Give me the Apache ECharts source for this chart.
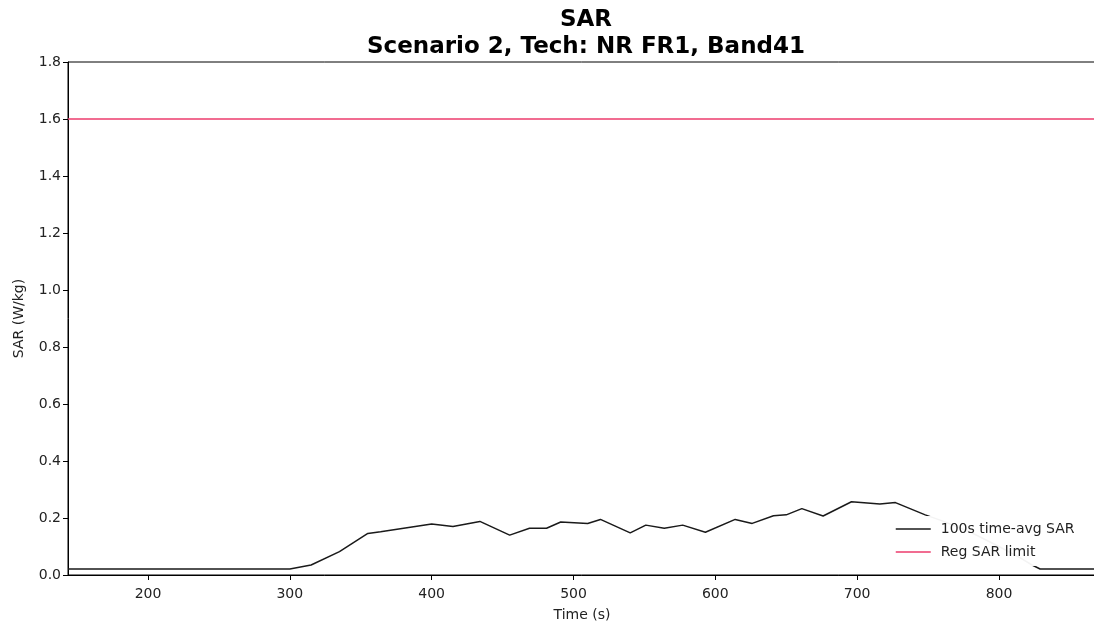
<!DOCTYPE html>
<html>
<head>
<meta charset="utf-8">
<script src="https://cdn.jsdelivr.net/npm/echarts@6/dist/echarts.min.js"></script>
<style>
html,body{margin:0;padding:0;background:#fff;}
#chart{width:1094px;height:626px;}
</style>
</head>
<body>
<div id="chart"></div>
<script>
// ---- data ----
var xRange = [143.6, 868.4];
var xTicks = [200, 300, 400, 500, 600, 700, 800];
var yTicks = [0, 0.2, 0.4, 0.6, 0.8, 1.0, 1.2, 1.4, 1.6, 1.8];
var timeS = [143.6, 300, 315, 335, 355, 364, 400, 415, 434, 455, 469, 481, 491, 510, 519, 540, 551, 564, 577, 593, 614, 626, 641, 650, 661, 676, 696, 716, 727, 748, 760, 780, 800, 815, 823, 829, 868.4];
var avgSAR = [0.021, 0.021, 0.035, 0.082, 0.146, 0.152, 0.179, 0.170, 0.188, 0.140, 0.164, 0.164, 0.186, 0.181, 0.195, 0.148, 0.175, 0.164, 0.175, 0.150, 0.195, 0.181, 0.208, 0.211, 0.233, 0.207, 0.257, 0.249, 0.254, 0.211, 0.190, 0.150, 0.100, 0.060, 0.036, 0.021, 0.021];
var sarLimit = 1.6;
var seriesNames = ['100s time-avg SAR', 'Reg SAR limit'];

var font = 'DejaVu Sans';
var chart = echarts.init(document.getElementById('chart'));
chart.setOption({
  animation: false,
  backgroundColor: '#fff',
  title: {
    text: 'SAR\nScenario 2, Tech: NR FR1, Band41',
    left: 581, textAlign: 'center', top: 2,
    textStyle: { fontFamily: font, fontSize: 23, fontWeight: 'bold', color: '#000', lineHeight: 27 }
  },
  grid: { left: 68, right: -2, top: 62, bottom: 51, show: true, borderColor: '#000', borderWidth: 1, backgroundColor: 'transparent', containLabel: false, outerBoundsMode: 'none' },
  legend: {
    orient: 'vertical', left: 885, top: 516,
    data: seriesNames,
    itemWidth: 35, itemHeight: 14, itemGap: 9,
    padding: [6, 10, 7, 10],
    backgroundColor: 'rgba(255,255,255,0.95)',
    itemStyle: { opacity: 0 },
    lineStyle: { width: 1.5 },
    textStyle: { fontFamily: font, fontSize: 14, color: '#222', padding: [0, 0, 0, 5] }
  },
  xAxis: {
    type: 'value', min: xRange[0], max: xRange[1],
    name: 'Time (s)', nameLocation: 'middle', nameGap: 33,
    nameTextStyle: { fontFamily: font, fontSize: 14, color: '#222' },
    axisLine: { show: true, lineStyle: { color: '#000', width: 1 } },
    axisTick: { show: true, length: 5, customValues: xTicks, lineStyle: { color: '#000' } },
    axisLabel: { customValues: xTicks, fontFamily: font, fontSize: 14, color: '#222', margin: 12 },
    splitLine: { show: false }
  },
  yAxis: {
    type: 'value', min: 0, max: 1.8, interval: 0.2,
    name: 'SAR (W/kg)', nameLocation: 'middle', nameGap: 42, nameRotate: 90,
    nameTextStyle: { fontFamily: font, fontSize: 14, color: '#222' },
    axisLine: { show: true, lineStyle: { color: '#000', width: 1 } },
    axisTick: { show: true, length: 5, lineStyle: { color: '#000' } },
    axisLabel: { fontFamily: font, fontSize: 14, color: '#222', margin: 7, formatter: function (v) { return v.toFixed(1); } },
    splitLine: { show: false }
  },
  series: [
    {
      name: seriesNames[0], type: 'line', showSymbol: false, symbol: 'none', z: 3,
      data: timeS.map(function (t, i) { return [t, avgSAR[i]]; }),
      lineStyle: { color: '#1a1a1a', width: 1.5 }, itemStyle: { color: '#1a1a1a' }
    },
    {
      name: seriesNames[1], type: 'line', showSymbol: false, symbol: 'none', z: 3,
      data: xRange.map(function (t) { return [t, sarLimit]; }),
      lineStyle: { color: '#ec3b6c', width: 1.5 }, itemStyle: { color: '#ec3b6c' }
    }
  ]
});
</script>
</body>
</html>
